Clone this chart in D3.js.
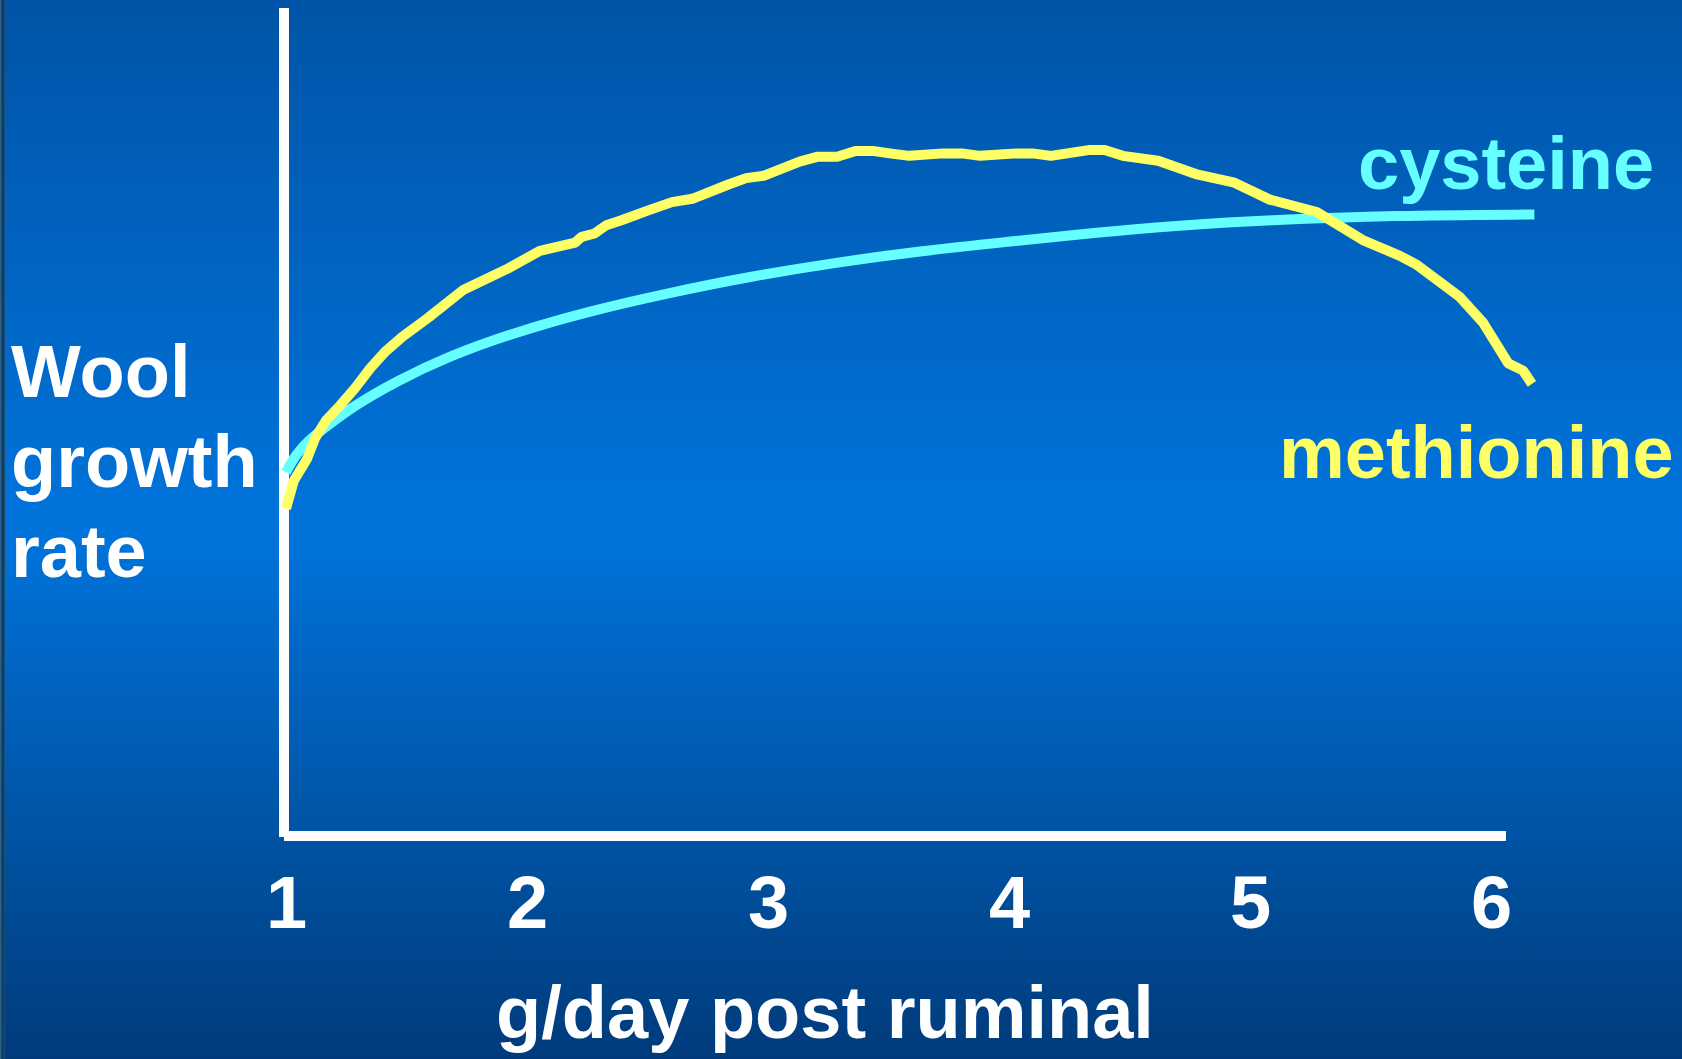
<!DOCTYPE html>
<html>
<head>
<meta charset="utf-8">
<script src="https://cdn.jsdelivr.net/npm/d3@7"></script>
<style>
  html, body { margin: 0; padding: 0; background: #0065c4; overflow: hidden; }
  svg { display: block; }
</style>
</head>
<body>
<svg id="chart"></svg>
<script>
// values (y is an unitless growth index 0-100)
const xTicks = [1, 2, 3, 4, 5, 6];

const cysteineX = [1.00, 1.04, 1.09, 1.18, 1.28, 1.456, 1.679, 1.946, 2.258, 2.570, 2.926, 3.283, 3.639, 3.996, 4.352, 4.708, 5.065, 5.599, 6.18];
const cysteineY = [43.8, 45.9, 47.6, 49.6, 51.8, 54.8, 57.9, 60.7, 63.3, 65.4, 67.5, 69.2, 70.6, 71.7, 72.8, 73.7, 74.3, 74.9, 75.0];

const methionineX = [1.00, 1.033, 1.087, 1.122, 1.167, 1.225, 1.287, 1.350, 1.412, 1.483, 1.590, 1.737, 1.924, 2.053, 2.200, 2.227, 2.280, 2.329, 2.392, 2.503, 2.601, 2.686, 2.833, 2.909, 2.984, 3.131, 3.207, 3.287, 3.363, 3.434, 3.505, 3.586, 3.728, 3.804, 3.880, 4.031, 4.098, 4.174, 4.330, 4.397, 4.472, 4.619, 4.775, 4.931, 5.082, 5.277, 5.468, 5.622, 5.693, 5.871, 5.967, 6.071, 6.133, 6.170];
const methionineY = [39.4, 42.8, 45.4, 48.0, 50.1, 51.9, 54.0, 56.4, 58.4, 60.2, 62.5, 65.9, 68.5, 70.6, 71.6, 72.3, 72.7, 73.7, 74.3, 75.5, 76.5, 76.9, 78.6, 79.4, 79.7, 81.4, 82.0, 82.0, 82.7, 82.7, 82.4, 82.1, 82.4, 82.4, 82.1, 82.4, 82.4, 82.1, 82.8, 82.8, 82.1, 81.5, 79.9, 78.9, 76.8, 75.3, 71.9, 70.0, 68.9, 65.0, 61.9, 57.0, 56.1, 54.5];

const width = 1682;
const height = 1059;
const font = "'Liberation Sans', Arial, Helvetica, sans-serif";

const svg = d3.select("#chart")
    .attr("width", width)
    .attr("height", height);

// slide background
const defs = svg.append("defs");
const bg = defs.append("linearGradient").attr("id", "bg")
    .attr("x1", 0).attr("y1", 0).attr("x2", 0).attr("y2", 1);
bg.append("stop").attr("offset", "0%").attr("stop-color", "#0054a7");
bg.append("stop").attr("offset", "50%").attr("stop-color", "#0074dc");
bg.append("stop").attr("offset", "100%").attr("stop-color", "#003b7b");

const edge = defs.append("linearGradient").attr("id", "edge")
    .attr("x1", 0).attr("y1", 0).attr("x2", 1).attr("y2", 0);
edge.append("stop").attr("offset", "0%").attr("stop-color", "#2b6d9c");
edge.append("stop").attr("offset", "60%").attr("stop-color", "#0f2f4f");
edge.append("stop").attr("offset", "100%").attr("stop-color", "#1d5a88");

svg.append("rect").attr("width", width).attr("height", height).attr("fill", "url(#bg)");
svg.append("rect").attr("width", 5).attr("height", height).attr("fill", "url(#edge)");

const x = d3.scaleLinear()
    .domain([1, 6])
    .range([286, 1491]);

const y = d3.scaleLinear()
    .domain([0, 100])
    .range([834, 8]);

const axisX = 284;
const axisY = 836;

// axis lines (hand drawn style, no ticks)
svg.append("line")
    .attr("x1", axisX).attr("x2", axisX)
    .attr("y1", y(100)).attr("y2", axisY + 1)
    .attr("stroke", "white").attr("stroke-width", 10);
svg.append("line")
    .attr("x1", axisX).attr("x2", 1506)
    .attr("y1", axisY).attr("y2", axisY)
    .attr("stroke", "white").attr("stroke-width", 10);

const xAxis = svg.append("g")
    .attr("transform", `translate(0,${axisY})`)
    .call(d3.axisBottom(x).tickValues(xTicks).tickSize(0).tickFormat(d3.format("d")));
xAxis.select(".domain").remove();
xAxis.selectAll("text")
    .attr("y", 92)
    .attr("dy", null)
    .attr("fill", "white")
    .style("font-family", font)
    .style("font-weight", "bold")
    .style("font-size", "74px");

svg.append("text")
    .attr("x", 825).attr("y", 1038)
    .attr("text-anchor", "middle")
    .attr("fill", "white")
    .style("font-family", font).style("font-weight", "bold").style("font-size", "74px")
    .text("g/day post ruminal");

const yTitle = svg.append("text")
    .attr("fill", "white")
    .style("font-family", font).style("font-weight", "bold").style("font-size", "74px");
["Wool", "growth", "rate"].forEach((t, i) => {
    yTitle.append("tspan").attr("x", 11).attr("y", 397 + i * 90).text(t);
});

const cysteine = cysteineX.map((v, i) => ({ x: v, y: cysteineY[i] }));
const methionine = methionineX.map((v, i) => ({ x: v, y: methionineY[i] }));

const smooth = d3.line().x(d => x(d.x)).y(d => y(d.y)).curve(d3.curveBasis);
const jagged = d3.line().x(d => x(d.x)).y(d => y(d.y));

svg.append("path").datum(cysteine)
    .attr("fill", "none").attr("stroke", "#66ffff").attr("stroke-width", 10)
    .attr("d", smooth);

svg.append("path").datum(methionine)
    .attr("fill", "none").attr("stroke", "#ffff66").attr("stroke-width", 10)
    .attr("stroke-linejoin", "round")
    .attr("d", jagged);

svg.append("text")
    .attr("x", 1358).attr("y", 189)
    .attr("fill", "#66ffff")
    .style("font-family", font).style("font-weight", "bold").style("font-size", "74px")
    .text("cysteine");

svg.append("text")
    .attr("x", 1279).attr("y", 478)
    .attr("fill", "#ffff66")
    .style("font-family", font).style("font-weight", "bold").style("font-size", "74px")
    .text("methionine");
</script>
</body>
</html>
